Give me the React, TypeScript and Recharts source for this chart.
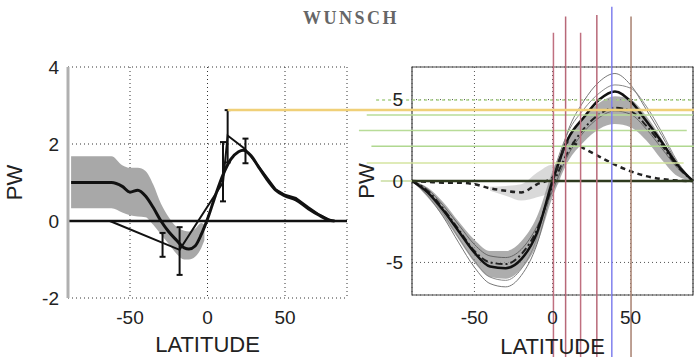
import { ComposedChart, Line, Area, Scatter, ErrorBar, XAxis, YAxis, CartesianGrid, ReferenceLine, ReferenceArea } from 'recharts'

const W = 694
const H = 358
const FONT = '"Liberation Sans", Arial, sans-serif'

// left panel: thick curve and its grey band
const leftLat = [-88, -80, -70, -62, -55, -50, -45, -40, -35, -30, -25, -20, -15, -12, -8, -4, 0, 5, 10, 15, 20, 23, 28, 33, 38, 44, 50, 57, 65, 72, 78, 82]
const leftPw = [1.0, 1.0, 1.0, 1.0, 0.9, 0.75, 0.8, 0.65, 0.35, 0.0, -0.28, -0.5, -0.7, -0.73, -0.65, -0.35, 0.05, 0.65, 1.2, 1.6, 1.8, 1.84, 1.7, 1.4, 1.1, 0.8, 0.65, 0.55, 0.32, 0.15, 0.03, 0]
const leftBandLat = [-88, -80, -70, -62, -55, -50, -45, -40, -35, -30, -25, -20, -15, -12, -8, -4, -2]
const leftBandLo = [0.33, 0.33, 0.33, 0.33, 0.22, 0.15, 0.12, 0.1, -0.1, -0.35, -0.6, -0.85, -1.0, -1.0, -0.93, -0.7, -0.5]
const leftBandHi = [1.68, 1.68, 1.68, 1.68, 1.45, 1.38, 1.38, 1.3, 0.95, 0.45, 0.1, -0.15, -0.25, -0.27, -0.2, -0.05, -0.1]

// left panel: observation polyline and error bars
const obsLat = [-63, -18, 10, 13, 24, 33, 44, 50, 57, 65, 72, 80]
const obsPw = [0, -0.75, 1.0, 2.22, 1.88, 1.42, 0.82, 0.68, 0.6, 0.36, 0.17, 0]
const errLat = [-29, -18, 10, 13, 24.5]
const errPw = [-0.62, -0.78, 1.28, 2.2, 1.82]
const errSize = [0.31, 0.62, 0.77, 0.68, 0.32]
const markLat = [13, 317]
const markPw = 2.88

// right panel
const rightLat = [-90, -80, -70, -60, -50, -40, -30, -20, -10, 0, 10, 20, 30, 40, 50, 60, 70, 80, 90]
const mainPw = [0, -0.7, -1.8, -3.1, -4.4, -5.25, -5.35, -4.8, -3.2, 0, 2.6, 3.9, 5.0, 5.5, 4.9, 3.7, 2.4, 1.0, 0]
const envHiPw = [0, -0.9, -2.2, -3.8, -5.3, -6.3, -6.5, -5.8, -3.9, -0.3, 3.1, 4.9, 6.1, 6.6, 5.9, 4.4, 2.8, 1.1, 0]
const envMidPw = [0, -0.8, -2.0, -3.5, -4.9, -5.9, -6.1, -5.4, -3.5, 0.3, 3.0, 4.4, 5.4, 5.9, 5.7, 4.6, 3.0, 1.2, 0]
const envLoPw = [0, -0.5, -1.5, -2.7, -3.9, -4.6, -4.7, -4.2, -2.8, -0.6, 1.6, 3.0, 3.9, 4.3, 4.1, 3.2, 2.0, 0.8, 0]
const dashPw = [0, -0.6, -1.7, -3.0, -4.3, -5.0, -5.1, -4.5, -3.0, -0.3, 1.8, 3.2, 4.1, 4.5, 4.3, 3.4, 2.2, 0.9, 0]
const weakPw = [0, -0.05, -0.1, -0.1, -0.2, -0.45, -0.6, -0.7, -0.2, 0.2, 2.4, 2.0, 1.5, 1.0, 0.6, 0.3, 0.12, 0.03, 0]
const bandLo = [0, -1.0, -2.2, -3.6, -5.0, -5.9, -6.0, -5.4, -3.9, -1.0, 1.2, 2.4, 3.2, 3.5, 3.3, 2.5, 1.3, 0.3, 0]
const bandHi = [0, -0.4, -1.3, -2.5, -3.6, -4.3, -4.3, -3.7, -2.2, 0.6, 2.6, 3.9, 4.8, 5.2, 5.0, 4.0, 2.6, 1.0, 0]
const weakBandLat = [-40, -30, -20, -10, 0, 5]
const weakBandLo = [-0.6, -0.9, -1.2, -1.0, -0.6, 0]
const weakBandHi = [-0.35, -0.3, -0.2, 0.5, 1.0, 0.8]

// overlay marker lines on the right panel
const vLineLat = [0.6, 8.4, 18, 28.4, 38, 50.3]
const vLineTop = [9.1, 10.1, 9.1, 10.2, 10.7, 10.1]
const vLineColor = ['#c07080', '#b86878', '#c07080', '#b86878', '#8080ee', '#a88070']
const vLineBottom = -10.8
const hLineLevel = [4.97, 4.06, 3.1, 2.13, 1.1, 0]
const hLineFrom = [-113, -119, -124, -116, -119, -110]
const hLineTo = [92, 90, 86, 92, 84, -90]
const hLineColor = ['#a8d088', '#b8dc98', '#b8dc98', '#b0d890', '#d4e4a0', '#c8dca0']

const leftRows = leftLat.map((lat, i) => ({ lat, pw: leftPw[i] }))
const leftBandRows = leftBandLat.map((lat, i) => ({ lat, band: [leftBandLo[i], leftBandHi[i]] }))
const obsRows = obsLat.map((lat, i) => ({ lat, pw: obsPw[i] }))
const errRows = errLat.map((lat, i) => ({ lat, pw: errPw[i], err: errSize[i] }))

const rightRows = rightLat.map((lat, i) => ({
  lat,
  main: mainPw[i],
  envHi: envHiPw[i],
  envMid: envMidPw[i],
  envLo: envLoPw[i],
  dash: dashPw[i],
  weak: weakPw[i],
  band: [bandLo[i], bandHi[i]],
}))
const weakBandRows = weakBandLat.map((lat, i) => ({ lat, band: [weakBandLo[i], weakBandHi[i]] }))

const tick = { fill: '#222', fontSize: 19, fontFamily: FONT }
const axisLabel = { fill: '#222', fontSize: 22, fontFamily: FONT }

function NoDot() {
  return <g />
}

function RightPanel() {
  return (
    <ComposedChart width={W} height={H} data={rightRows} margin={{ top: 67, right: 1, bottom: 0, left: 352 }} style={{ position: 'absolute', left: 0, top: 0 }}>
      <CartesianGrid stroke="#555" strokeDasharray="1 3" />
      <XAxis dataKey="lat" type="number" domain={[-90, 90]} ticks={[-50, 0, 50]} axisLine={false} tickLine={false} height={63} tickMargin={10} tick={tick}
        label={{ value: 'LATITUDE', position: 'insideBottom', offset: 4, ...axisLabel }} />
      <YAxis type="number" domain={[-7, 7]} ticks={[-5, 0, 5]} width={60} axisLine={false} tickLine={false} tickMargin={3} tick={tick}
        label={{ value: 'PW', angle: -90, position: 'insideLeft', offset: 14, style: { textAnchor: 'middle' }, ...axisLabel }} />
      <Area data={weakBandRows} dataKey="band" type="monotone" stroke="none" fill="#d0d0d0" fillOpacity={0.8} isAnimationActive={false} />
      <Area dataKey="band" type="monotone" stroke="none" fill="#929292" fillOpacity={0.75} isAnimationActive={false} />
      <Line dataKey="envHi" type="monotone" stroke="#777" strokeWidth={1} dot={false} isAnimationActive={false} />
      <Line dataKey="envMid" type="monotone" stroke="#888" strokeWidth={1} dot={false} isAnimationActive={false} />
      <Line dataKey="envLo" type="monotone" stroke="#666" strokeWidth={1} dot={false} isAnimationActive={false} />
      <Line dataKey="dash" type="monotone" stroke="#222" strokeWidth={2} strokeDasharray="7 3 2 3" dot={false} isAnimationActive={false} />
      <Line dataKey="main" type="monotone" stroke="#111" strokeWidth={2.5} dot={false} isAnimationActive={false} />
      <Line dataKey="weak" type="monotone" stroke="#222" strokeWidth={2.5} strokeDasharray="5 4" dot={false} isAnimationActive={false} />
      <ReferenceArea x1={-90} x2={90} y1={-7} y2={7} fill="none" stroke="#444" strokeWidth={1.2} ifOverflow="visible" />
      {hLineLevel.map((y, i) => (
        <ReferenceLine key={'h' + i} segment={[{ x: hLineFrom[i], y }, { x: hLineTo[i], y }]} stroke={hLineColor[i]} strokeWidth={1.5}
          strokeDasharray={i === 0 ? '3 3' : undefined} ifOverflow="visible" />
      ))}
      <ReferenceLine y={0} stroke="#2e3a1e" strokeWidth={2.5} />
      {vLineLat.map((x, i) => (
        <ReferenceLine key={'v' + i} segment={[{ x, y: vLineTop[i] }, { x, y: vLineBottom }]} stroke={vLineColor[i]} strokeWidth={1.5} ifOverflow="visible" />
      ))}
    </ComposedChart>
  )
}

function LeftPanel() {
  return (
    <ComposedChart width={W} height={H} margin={{ top: 67, right: 347, bottom: 0, left: 8 }} style={{ position: 'absolute', left: 0, top: 0 }}>
      <CartesianGrid stroke="#333" strokeDasharray="1 3" />
      <XAxis dataKey="lat" type="number" domain={[-90, 90]} ticks={[-50, 0, 50]} axisLine={false} tickLine={false} height={60} tickMargin={7} tick={tick}
        label={{ value: 'LATITUDE', position: 'insideBottom', offset: 6, ...axisLabel }} />
      <YAxis type="number" domain={[-2, 4]} ticks={[-2, 0, 2, 4]} width={60} axisLine={{ stroke: '#b0b0b0', strokeWidth: 3 }} tickLine={false} tickMargin={3} tick={tick}
        label={{ value: 'PW', angle: -90, position: 'insideLeft', offset: 6, style: { textAnchor: 'middle' }, ...axisLabel }} />
      <Area data={leftBandRows} dataKey="band" type="monotone" stroke="none" fill="#a8a8a8" fillOpacity={1} isAnimationActive={false} />
      <ReferenceLine y={0} stroke="#111" strokeWidth={2.5} />
      <Line data={obsRows} dataKey="pw" type="linear" stroke="#111" strokeWidth={2} dot={false} isAnimationActive={false} />
      <Line data={leftRows} dataKey="pw" type="monotone" stroke="#111" strokeWidth={3} dot={false} isAnimationActive={false} />
      <Scatter data={errRows} dataKey="pw" shape={NoDot} isAnimationActive={false}>
        <ErrorBar dataKey="err" direction="y" width={3} stroke="#111" strokeWidth={2} />
      </Scatter>
      <ReferenceLine segment={[{ x: markLat[0], y: markPw }, { x: markLat[1], y: markPw }]} stroke="#f0d078" strokeWidth={2.5} ifOverflow="visible" />
    </ComposedChart>
  )
}

export default function App() {
  return (
    <div style={{ position: 'relative', width: W, height: H, background: '#fff', overflow: 'hidden' }}>
      <style>{'body{margin:0}'}</style>
      <div style={{ position: 'absolute', left: 4, top: 8, width: W, textAlign: 'center', fontFamily: '"Liberation Serif", "DejaVu Serif", serif', fontSize: 18, fontWeight: 600, letterSpacing: 2.5, color: '#666' }}>
        WUNSCH
      </div>
      <RightPanel />
      <LeftPanel />
    </div>
  )
}
